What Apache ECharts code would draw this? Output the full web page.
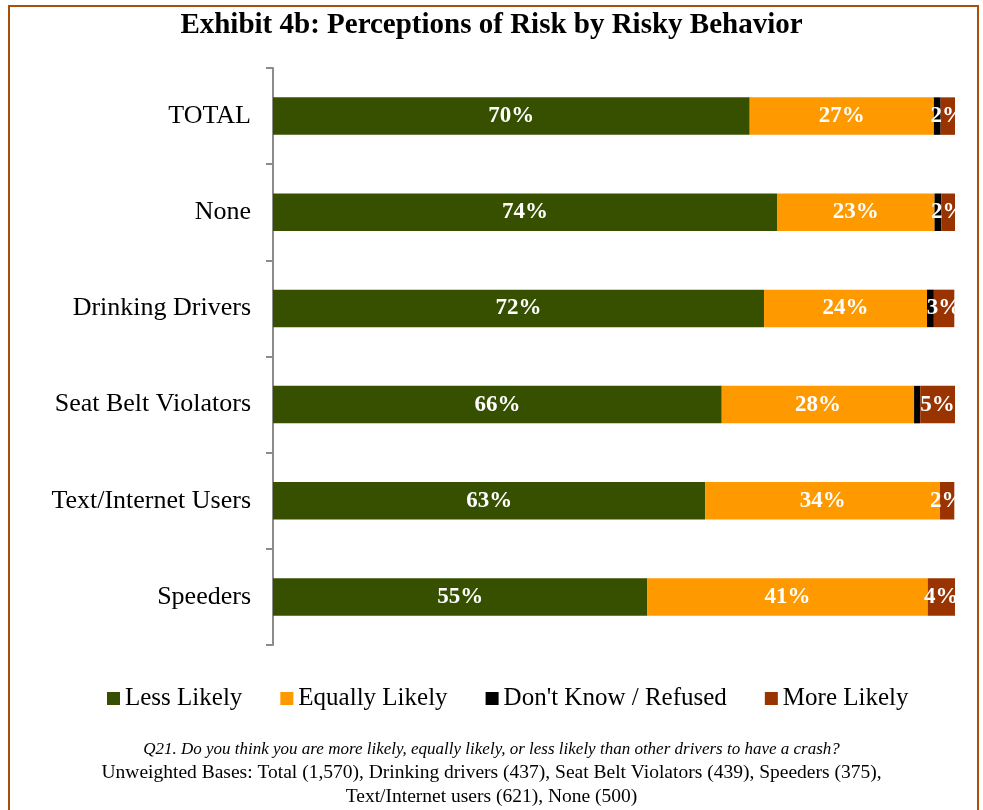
<!DOCTYPE html>
<html>
<head>
<meta charset="utf-8">
<script src="https://cdn.jsdelivr.net/npm/echarts@6/dist/echarts.min.js"></script>
<style>
html,body{margin:0;padding:0;background:#fff;}
#chart{width:983px;height:810px;}
</style>
</head>
<body>
<div id="chart"></div>
<script>
var myChart = echarts.init(document.getElementById('chart'));

/* 数据 */
var categories = ['TOTAL', 'None', 'Drinking Drivers', 'Seat Belt Violators', 'Text/Internet Users', 'Speeders'];
var lessLikely   = [69.9, 73.9, 72.0, 65.8, 63.4, 54.9];
var equalLikely  = [27.0, 23.1, 23.9, 28.2, 34.4, 41.1];
var dontKnow     = [1.0, 1.0, 1.0, 0.9, 0, 0];
var moreLikely   = [2.1, 2.0, 3.0, 5.1, 2.1, 4.0];
var seriesNames  = ['Less Likely', 'Equally Likely', "Don't Know / Refused", 'More Likely'];
var seriesColors = ['#375000', '#ff9900', '#000000', '#993300'];

var serif = '"Liberation Serif", "DejaVu Serif", serif';

var pctLabel = {
    show: true,
    color: '#fff',
    fontFamily: serif,
    fontWeight: 'bold',
    fontSize: 23,
    formatter: function (p) { return Math.round(p.value) + '%'; }
};

function makeSeries(name, data, color, withLabel) {
    return {
        name: name,
        type: 'bar',
        stack: 'all',
        barWidth: '39%',
        data: data,
        itemStyle: { color: color },
        label: withLabel ? pctLabel : { show: false }
    };
}

var option = {
    animation: false,
    title: {
        text: 'Exhibit 4b: Perceptions of Risk by Risky Behavior',
        left: 'center',
        top: 6,
        textStyle: { fontFamily: serif, fontWeight: 'bold', fontSize: 29, color: '#000' }
    },
    legend: {
        data: seriesNames,
        bottom: 94,
        left: 102,
        icon: 'rect',
        itemWidth: 13,
        itemHeight: 13,
        itemGap: 38,
        textStyle: { fontFamily: serif, fontSize: 25, color: '#000' }
    },
    grid: { left: 273, right: 28, top: 68, bottom: 165, containLabel: false },
    xAxis: {
        type: 'value',
        min: 0,
        max: 100,
        show: false
    },
    yAxis: {
        type: 'category',
        data: categories,
        inverse: true,
        axisLine: { show: true, lineStyle: { color: '#8c8c8c', width: 2 } },
        axisTick: { show: true, length: 7, lineStyle: { color: '#8c8c8c', width: 2 } },
        axisLabel: { fontFamily: serif, fontSize: 26, color: '#000', margin: 22 }
    },
    series: [
        makeSeries(seriesNames[0], lessLikely, seriesColors[0], true),
        makeSeries(seriesNames[1], equalLikely, seriesColors[1], true),
        makeSeries(seriesNames[2], dontKnow, seriesColors[2], false),
        makeSeries(seriesNames[3], moreLikely, seriesColors[3], true)
    ],
    graphic: [
        {   // 右侧裁切标签
            type: 'rect', z: 100,
            shape: { x: 956, y: 70, width: 21, height: 570 },
            style: { fill: '#fff' }
        },
        {
            type: 'rect', z: 101,
            shape: { x: 9, y: 6, width: 969, height: 830 },
            style: { fill: 'none', stroke: '#a5500f', lineWidth: 2 }
        },
        {
            type: 'text', z: 101, left: 'center', top: 741,
            style: {
                text: 'Q21. Do you think you are more likely, equally likely, or less likely than other drivers to have a crash?',
                font: 'italic 17px ' + serif, fill: '#000'
            }
        },
        {
            type: 'text', z: 101, left: 'center', top: 763,
            style: {
                text: 'Unweighted Bases: Total (1,570), Drinking drivers (437), Seat Belt Violators (439), Speeders (375),',
                font: '19.5px ' + serif, fill: '#000'
            }
        },
        {
            type: 'text', z: 101, left: 'center', top: 787,
            style: {
                text: 'Text/Internet users (621), None (500)',
                font: '19.5px ' + serif, fill: '#000'
            }
        }
    ]
};
myChart.setOption(option);
</script>
</body>
</html>
